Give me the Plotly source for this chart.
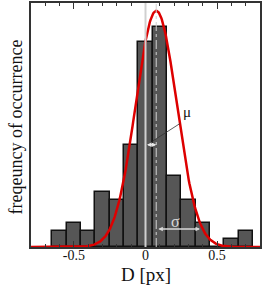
import numpy as np
import plotly.graph_objects as go

# Histogram data (bin centres, counts)
bin_centers = [-0.6, -0.5, -0.4, -0.3, -0.2, -0.1, 0.0, 0.1, 0.2, 0.3, 0.4, 0.5, 0.6, 0.7]
counts = [2, 3, 2, 7, 6, 13, 26, 28, 9, 6, 3, 0, 1, 2]
bin_width = 0.1

# Gaussian fit parameters
fit_amplitude = 30.0
fit_mu = 0.075
fit_sigma = 0.143

tick_vals = [-0.5, 0, 0.5]
tick_text = ["-0.5", "0", "0.5"]

x_fit = np.linspace(-0.8, 0.8, 400)
y_fit = fit_amplitude * np.exp(-0.5 * ((x_fit - fit_mu) / fit_sigma) ** 2)

serif = "Liberation Serif, Times New Roman, serif"

fig = go.Figure()
fig.add_trace(go.Bar(
    x=bin_centers, y=counts, width=bin_width,
    marker=dict(color="#565656", line=dict(color="#111111", width=1.5)),
    showlegend=False, hoverinfo="skip",
))

# reference lines at 0 and at mu
fig.add_shape(type="line", xref="x", yref="paper", x0=0, x1=0, y0=0, y1=1,
              line=dict(color="#d0d0d0", width=2))
fig.add_shape(type="line", xref="x", yref="paper", x0=fit_mu, x1=fit_mu, y0=0, y1=1,
              line=dict(color="#d0d0d0", width=1, dash="dashdot"))

fig.add_trace(go.Scatter(x=x_fit, y=y_fit, mode="lines", hoverinfo="skip",
                         line=dict(color="#dd0000", width=2.5), showlegend=False))

# mu annotation
fig.add_annotation(x=fit_mu, y=13.0, ax=0, ay=13.0, axref="x", ayref="y",
                   xref="x", yref="y", text="", showarrow=True,
                   arrowhead=2, arrowsize=0.6, arrowwidth=1.5, arrowside="end+start",
                   arrowcolor="#e8e8e8")
fig.add_shape(type="line", xref="x", yref="y", x0=0.045, y0=13.4, x1=0.242, y1=15.7,
              line=dict(color="#333333", width=0.8))
fig.add_annotation(x=0.288, y=17.1, xref="x", yref="y", text="μ", showarrow=False,
                   font=dict(family=serif, size=15, color="#111111"))

# sigma annotation
fig.add_annotation(x=0.381, y=2.3, ax=0.079, ay=2.3, axref="x", ayref="y",
                   xref="x", yref="y", text="", showarrow=True,
                   arrowhead=2, arrowsize=0.6, arrowwidth=1.5, arrowside="end+start",
                   arrowcolor="#d8d8d8")
fig.add_annotation(x=0.207, y=3.3, xref="x", yref="y", text="σ", showarrow=False,
                   font=dict(family=serif, size=16, color="#d8d8d8"))

# axis titles
fig.add_annotation(x=0.5, y=-0.112, xref="paper", yref="paper", text="D [px]",
                   showarrow=False, xanchor="center", yanchor="middle",
                   font=dict(family=serif, size=19, color="#111111"))
fig.add_annotation(x=-0.0655, y=0.49, xref="paper", yref="paper",
                   text="freqeuncy of occurrence", textangle=-90,
                   showarrow=False, xanchor="center", yanchor="middle",
                   font=dict(family=serif, size=18, color="#111111"))

fig.update_layout(
    width=262, height=285,
    margin=dict(l=31, r=2, t=3, b=38, autoexpand=False),
    paper_bgcolor="white", plot_bgcolor="white",
    bargap=0,
    font=dict(family=serif, color="#111111"),
    xaxis=dict(
        range=[-0.8, 0.8], tickvals=tick_vals, ticktext=tick_text,
        ticks="inside", ticklen=6, tickwidth=1, tickcolor="#333333",
        minor=dict(dtick=0.1, tick0=0, ticks="inside", ticklen=3, tickcolor="#333333"),
        showline=True, linecolor="#333333", linewidth=2, mirror="allticks",
        showgrid=False, zeroline=False, automargin=False,
        tickfont=dict(size=14, family=serif), ticklabelstandoff=-6,
    ),
    yaxis=dict(
        range=[0, 31], showticklabels=False, ticks="",
        showline=True, linecolor="#333333", linewidth=2, mirror=True,
        showgrid=False, zeroline=False, automargin=False,
    ),
)

fig.write_html("out.html", config={"displayModeBar": False},
               post_script="document.body.style.margin='0';document.body.style.overflow='hidden';")
